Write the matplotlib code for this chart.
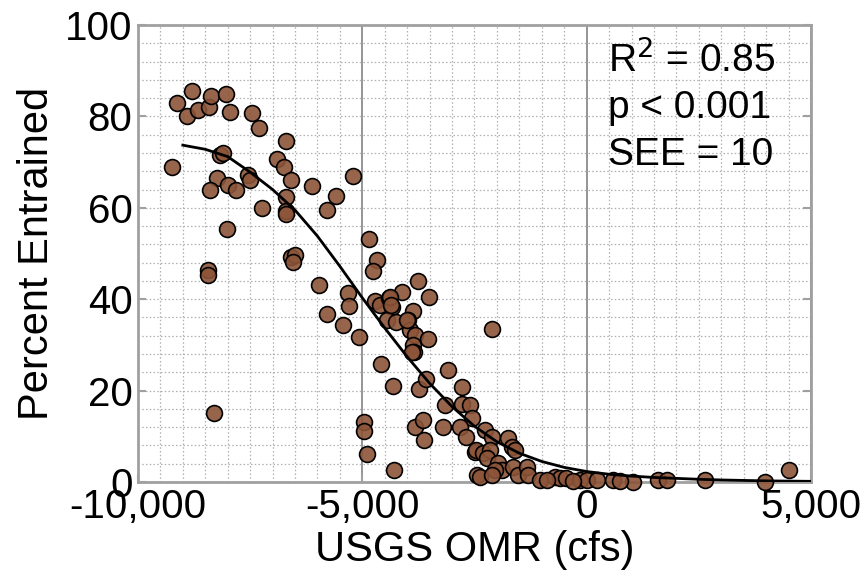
import matplotlib
matplotlib.use('Agg')
import matplotlib.pyplot as plt
from matplotlib.ticker import MultipleLocator, FuncFormatter

plt.rcParams['font.family'] = ['Liberation Sans', 'DejaVu Sans']

# observed entrainment vs OMR flow
omr_cfs = [
    -9250, -9120, -8915, -8790, -8660, -8420, -8375, -8040, -7950, -7450,
    -7300, -6690, -8170, -8110, -8230, -8400, -7990, -7820, -7540, -7500,
    -6900, -6750, -6590, -6130, -6710, -6710, -6710, -7240, -8020, -6580,
    -6500, -6540, -8430, -8430, -5970, -8300, -5215, -5590, -5795, -4850,
    -4670, -4760, -5330, -5300, -5795, -5420, -3750, -3510, -4125, -4720,
    -4610, -4400, -4330, -3865, -4460, -4240, -3975, -5075, -4585, -4310,
    -3740, -3590, -3940, -3830, -3880, -3850, -3530, -4960, -4960, -4890,
    -4295, -3100, -2780, -3160, -2770, -2590, -3200, -3830, -3655, -3625,
    -2560, -2820, -2680, -2490, -2440, -2120, -2270, -2120, -1750, -1670,
    -1600, -2470, -2300, -2155, -2230, -1970, -1895, -2045, -1640, -1525,
    -1340, -1300, -2380, -2120, -1040, -710, -600, -450, -150, 0,
    220, 590, 1040, 1600, 1780, 2640, 3970, 4510, -4380, -4350,
    -4010, -3900, -880, -300, 750,
]
pct_entrained = [
    69.0, 83.0, 80.0, 85.5, 81.5, 82.0, 84.5, 85.0, 81.0, 80.8,
    77.5, 74.7, 71.6, 72.0, 66.6, 64.0, 65.0, 64.0, 67.2, 66.0,
    70.6, 69.0, 66.0, 64.8, 62.3, 59.4, 58.6, 60.0, 55.3, 49.3,
    49.7, 48.2, 46.4, 45.3, 43.1, 15.0, 67.0, 62.6, 59.5, 53.1,
    48.6, 46.2, 41.3, 38.5, 36.8, 34.3, 44.0, 40.5, 41.5, 39.5,
    38.7, 40.3, 38.4, 37.4, 35.4, 35.1, 35.4, 31.7, 25.8, 21.0,
    20.3, 22.5, 33.3, 32.2, 30.0, 28.5, 31.3, 13.2, 11.2, 6.1,
    2.6, 24.5, 20.7, 16.8, 17.1, 16.8, 12.1, 12.0, 13.6, 9.2,
    13.9, 12.1, 9.9, 6.6, 1.5, 33.4, 11.4, 9.9, 9.6, 7.7,
    7.0, 7.0, 6.3, 7.0, 5.2, 4.1, 2.6, 2.6, 3.3, 1.5,
    3.3, 1.5, 1.2, 1.5, 0.4, 1.2, 0.8, 0.8, 0.4, 0.4,
    0.4, 0.4, 0.1, 0.4, 0.4, 0.4, 0.1, 2.6, 40.5, 38.7,
    35.4, 28.5, 0.5, 0.3, 0.2,
]

# fitted curve
fit_x = [-9000, -8500, -8000, -7500, -7000, -6500, -6000, -5500, -5000, -4500,
         -4000, -3500, -3000, -2500, -2000, -1500, -1000, -500, 0, 500,
         1000, 1500, 2000, 2500, 3000, 3500, 4000, 4500, 5000]
fit_y = [73.7, 72.8, 71.2, 67.8, 64.0, 59.5, 53.8, 47.2, 40.3, 33.7,
         27.4, 21.6, 16.5, 12.2, 8.8, 6.3, 4.5, 3.2, 2.3, 1.7,
         1.3, 1.0, 0.8, 0.6, 0.45, 0.35, 0.25, 0.2, 0.15]

stats = ['R$^2$ = 0.85', 'p < 0.001', 'SEE = 10']

fig = plt.figure(figsize=(8.65, 5.77), dpi=100)
ax = fig.add_axes([0.1595, 0.1646, 0.7781, 0.7921])

ax.set_xlim(-10000, 5000)
ax.set_ylim(0, 100)

ax.xaxis.set_major_locator(MultipleLocator(5000))
ax.xaxis.set_minor_locator(MultipleLocator(500))
ax.yaxis.set_major_locator(MultipleLocator(20))
ax.yaxis.set_minor_locator(MultipleLocator(4))
ax.xaxis.set_major_formatter(FuncFormatter(lambda v, p: f'{int(v):,}'))

ax.grid(which='minor', axis='both', color='#b0b0b0', linestyle=(0, (1.2, 1.8)), linewidth=0.9)
ax.grid(which='major', axis='y', color='#b0b0b0', linestyle=(0, (1.2, 1.8)), linewidth=0.9)
ax.grid(which='major', axis='x', color='#8c8c8c', linestyle='-', linewidth=1.3)
ax.set_axisbelow(True)

for s in ax.spines.values():
    s.set_color('#a0a0a0')
    s.set_linewidth(2)

ax.tick_params(which='major', direction='in', length=6, width=1.5, color='#a0a0a0',
               labelsize=29, right=True, top=False, pad=4)
ax.tick_params(which='minor', length=0)

ax.scatter(omr_cfs, pct_entrained, s=130, facecolors=[(0.55, 0.33, 0.22, 0.9)],
           edgecolors='black', linewidths=1.2, zorder=3, clip_on=False)
ax.plot(fit_x, fit_y, color='black', linewidth=2, zorder=4)

ax.set_xlabel('USGS OMR (cfs)', fontsize=30, labelpad=3)
ax.set_ylabel('Percent Entrained', fontsize=30, labelpad=6)

for i, txt in enumerate(stats):
    ax.text(0.698, 0.898 - 0.102 * i, txt, transform=ax.transAxes,
            fontsize=28, va='baseline', ha='left')

plt.savefig('out.png', dpi=100)
